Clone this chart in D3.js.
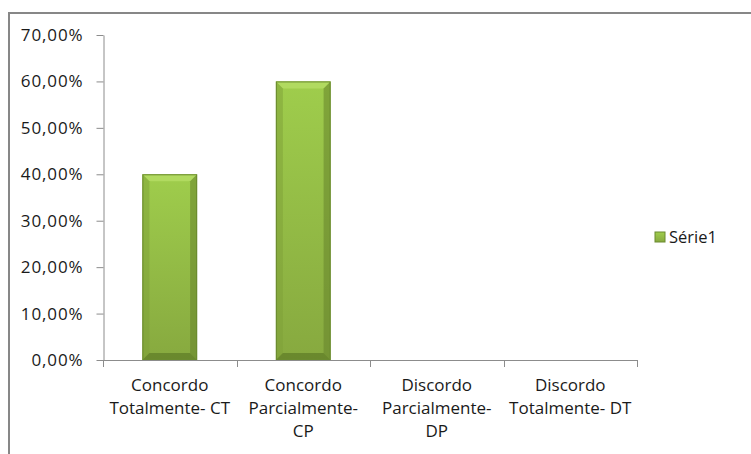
<!DOCTYPE html>
<html>
<head>
<meta charset="utf-8">
<script src="https://cdn.jsdelivr.net/npm/d3@7"></script>
<style>
  body { margin: 0; background: #fff; }
  svg text { font-family: "Open Sans", sans-serif; fill: #1a1a1a; }
</style>
</head>
<body>
<svg id="canvas"></svg>
<script>
// Chart data.
var categories = [
  ['Concordo', 'Totalmente- CT'],
  ['Concordo', 'Parcialmente-', 'CP'],
  ['Discordo', 'Parcialmente-', 'DP'],
  ['Discordo', 'Totalmente- DT']
];
var values = [0.40, 0.60, 0, 0];
var yTicks = [0, 0.1, 0.2, 0.3, 0.4, 0.5, 0.6, 0.7];
var seriesName = 'Série1';

// Canvas dimensions.
var canvasWidth = 751;
var canvasHeight = 454;

// Plot area.
var plotLeft = 103;
var plotRight = 637;
var plotTop = 35;
var plotBottom = 360;

var svg = d3.select('#canvas')
            .attr('width', canvasWidth)
            .attr('height', canvasHeight);

var translation = function(x, y) {
  return 'translate(' + x + ',' + y + ')';
};

// Outer chart border (cropped at the right and bottom).
svg.append('path')
   .attr('d', 'M9,' + canvasHeight + ' V13 H' + canvasWidth)
   .attr('fill', 'none')
   .attr('stroke', '#878787')
   .attr('stroke-width', 2);

// Gradients for the bars.
var defs = svg.append('defs');
var grad = defs.append('linearGradient')
               .attr('id', 'barFill')
               .attr('x1', 0).attr('y1', 0).attr('x2', 0).attr('y2', 1);
grad.append('stop').attr('offset', '0%').attr('stop-color', '#9fcd4c');
grad.append('stop').attr('offset', '100%').attr('stop-color', '#87a93f');

// Scales.
var xScale = d3.scaleBand()
               .domain(d3.range(categories.length))
               .range([plotLeft, plotRight])
               .paddingInner(0.59)
               .paddingOuter(0.295);

var yScale = d3.scaleLinear()
               .domain([0, 0.7])
               .range([plotBottom, plotTop]);

var percentFormat = function(d) {
  return (d * 100).toFixed(2).replace('.', ',') + '%';
};

// Vertical axis.
var yAxis = d3.axisLeft(yScale)
              .tickValues(yTicks)
              .tickSize(7)
              .tickSizeOuter(0)
              .tickPadding(13)
              .tickFormat(percentFormat);
var yAxisG = svg.append('g')
                .attr('transform', translation(plotLeft + 0.5, 0))
                .call(yAxis);
yAxisG.select('.domain').attr('stroke', '#8c8c8c');
yAxisG.selectAll('.tick line').attr('stroke', '#8c8c8c');
yAxisG.selectAll('.tick text')
      .attr('font-size', 17)
      .attr('letter-spacing', 0.9)
      .attr('font-family', '"Open Sans", sans-serif')
      .attr('fill', '#1a1a1a');

// Horizontal axis (ticks at category boundaries).
var boundaries = d3.range(categories.length + 1).map(function(i) {
  return plotLeft + i * xScale.step();
});
var xAxisG = svg.append('g');
xAxisG.append('line')
      .attr('x1', plotLeft).attr('x2', plotRight)
      .attr('y1', plotBottom + 0.5).attr('y2', plotBottom + 0.5)
      .attr('stroke', '#8c8c8c');
xAxisG.selectAll('line.tick')
      .data(boundaries)
      .enter()
      .append('line')
      .attr('class', 'tick')
      .attr('x1', function(d) { return Math.round(d) + 0.5; })
      .attr('x2', function(d) { return Math.round(d) + 0.5; })
      .attr('y1', plotBottom)
      .attr('y2', plotBottom + 7)
      .attr('stroke', '#8c8c8c');

// Category labels.
var labels = svg.selectAll('text.cat')
                .data(categories)
                .enter()
                .append('text')
                .attr('class', 'cat')
                .attr('text-anchor', 'middle')
                .attr('font-size', 17)
                .attr('x', function(d, i) { return xScale(i) + xScale.bandwidth() / 2; })
                .attr('y', 391);
labels.selectAll('tspan')
      .data(function(d) { return d; })
      .enter()
      .append('tspan')
      .attr('x', function() { return d3.select(this.parentNode).attr('x'); })
      .attr('dy', function(d, i) { return i === 0 ? 0 : 23; })
      .text(function(d) { return d; });

// Bars with a bevel look.
var bevel = 7;
var bars = svg.selectAll('g.bar')
              .data(values.filter(function(v) { return v > 0; }))
              .enter()
              .append('g')
              .attr('class', 'bar');

bars.each(function(v, i) {
  var g = d3.select(this);
  var x0 = xScale(i), x1 = xScale(i) + xScale.bandwidth();
  var y0 = yScale(v), y1 = yScale(0);
  g.append('rect')
   .attr('x', x0).attr('y', y0)
   .attr('width', x1 - x0).attr('height', y1 - y0)
   .attr('fill', 'url(#barFill)');
  // top bevel
  g.append('polygon')
   .attr('points', [[x0, y0], [x1, y0], [x1 - bevel, y0 + bevel], [x0 + bevel, y0 + bevel]].join(' '))
   .attr('fill', '#b2dc63').attr('opacity', 0.9);
  // left bevel
  g.append('polygon')
   .attr('points', [[x0, y0], [x0 + bevel, y0 + bevel], [x0 + bevel, y1 - bevel], [x0, y1]].join(' '))
   .attr('fill', '#7e9f38').attr('opacity', 0.5);
  // right bevel
  g.append('polygon')
   .attr('points', [[x1, y0], [x1 - bevel, y0 + bevel], [x1 - bevel, y1 - bevel], [x1, y1]].join(' '))
   .attr('fill', '#66832b').attr('opacity', 0.55);
  // bottom bevel
  g.append('polygon')
   .attr('points', [[x0, y1], [x0 + bevel, y1 - bevel], [x1 - bevel, y1 - bevel], [x1, y1]].join(' '))
   .attr('fill', '#5e7a27').attr('opacity', 0.7);
  g.append('rect')
   .attr('x', x0 + 0.5).attr('y', y0 + 0.5)
   .attr('width', x1 - x0 - 1).attr('height', y1 - y0 - 1)
   .attr('fill', 'none')
   .attr('stroke', '#6a8a2f');
});

// Legend.
var legend = svg.append('g').attr('transform', translation(655, 232));
legend.append('rect')
      .attr('width', 10).attr('height', 10)
      .attr('fill', 'url(#barFill)')
      .attr('stroke', '#6a8a2f');
legend.append('text')
      .attr('x', 14).attr('y', 10.5)
      .attr('font-size', 16.5)
      .text(seriesName);
</script>
</body>
</html>
